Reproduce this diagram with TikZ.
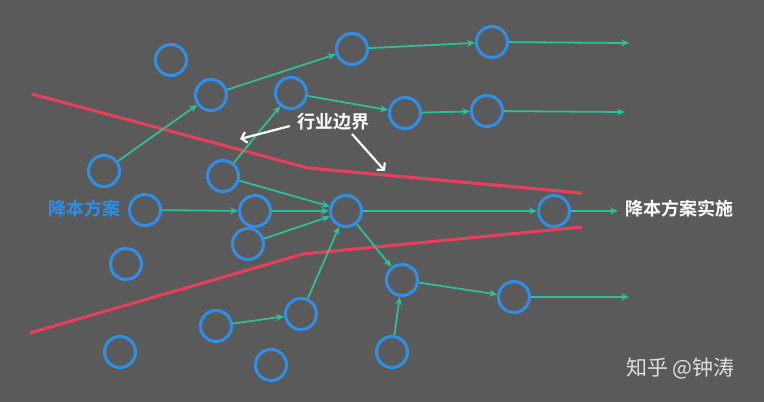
\documentclass[tikz,border=0pt]{standalone}
\usepackage{fontspec}
\newfontfamily\cjk{Noto Sans CJK SC}[BoldFont={Noto Sans CJK SC Bold}]
\usetikzlibrary{arrows.meta}
\definecolor{bg}{RGB}{90,90,90}
\definecolor{cblue}{RGB}{47,143,232}
\definecolor{cgreen}{RGB}{48,190,150}
\definecolor{cred}{RGB}{232,64,92}
\tikzset{
  ball/.style={circle,draw=cblue,line width=3pt,minimum size=31pt,inner sep=0pt},
  arr/.style={draw=cgreen,line width=1.8pt,-{Stealth[length=8pt,width=7pt]}},
  wline/.style={draw=white,line width=2.2pt,-{Straight Barb[length=5pt,width=11pt,line width=2.2pt]}},
  bound/.style={draw=cred,line width=3pt,line join=round},
  lbl/.style={font=\cjk\bfseries\fontsize{18}{18}\selectfont,inner sep=0pt}
}
\begin{document}
\begin{tikzpicture}[x=1pt,y=-1pt]
\fill[bg] (0,0) rectangle (764,402);
\useasboundingbox (0,0) rectangle (764,402);
% boundaries
\coordinate (u1) at (32,94); \coordinate (u2) at (308,168); \coordinate (u3) at (582,193);
\coordinate (l1) at (30,333); \coordinate (l2) at (303,254); \coordinate (l3) at (582,227);
\draw[bound] (u1) -- (u2) -- (u3);
\draw[bound] (l1) -- (l2) -- (l3);
% circles
\node[ball] (c1) at (171,60) {};
\node[ball] (c2) at (211,95) {};
\node[ball] (c3) at (352,49) {};
\node[ball] (c4) at (492,42) {};
\node[ball] (c5) at (291,93) {};
\node[ball] (c6) at (405,113) {};
\node[ball] (c7) at (487,111) {};
\node[ball] (c8) at (104,171) {};
\node[ball] (c9) at (223,176) {};
\node[ball] (c10) at (145,210) {};
\node[ball] (c11) at (255,211) {};
\node[ball] (c12) at (346,211) {};
\node[ball] (c13) at (554,211) {};
\node[ball] (c14) at (248,244) {};
\node[ball] (c15) at (126,264) {};
\node[ball] (c16) at (402,280) {};
\node[ball] (c17) at (514,297) {};
\node[ball] (c18) at (216,326) {};
\node[ball] (c19) at (301,314) {};
\node[ball] (c20) at (120,352) {};
\node[ball] (c21) at (271,365) {};
\node[ball] (c22) at (392,352) {};
% free ends
\coordinate (e4) at (629,43);
\coordinate (e7) at (625,112);
\coordinate (e13) at (618,211);
\coordinate (e17) at (629,297);
% arrows
\draw[arr] (c8) -- (c2);
\draw[arr] (c2) -- (c3);
\draw[arr] (c3) -- (c4);
\draw[arr] (c4) -- (e4);
\draw[arr] (c9) -- (c5);
\draw[arr] (c5) -- (c6);
\draw[arr] (c6) -- (c7);
\draw[arr] (c7) -- (e7);
\draw[arr] (c10) -- (c11);
\draw[arr] (c11) -- (c12);
\draw[arr] (c9) -- (c12);
\draw[arr] (c14) -- (c12);
\draw[arr] (c19) -- (c12);
\draw[arr] (c12) -- (c13);
\draw[arr] (c13) -- (e13);
\draw[arr] (c12) -- (c16);
\draw[arr] (c16) -- (c17);
\draw[arr] (c17) -- (e17);
\draw[arr] (c22) -- (c16);
\draw[arr] (c18) -- (c19);
% labels
\node[lbl,text=white] (hy) at (333,122) {行业边界};
\coordinate (ws1) at (290,126);
\coordinate (w1) at (240,139);
\coordinate (ws2) at (352,134);
\coordinate (w2) at (385,171);
\draw[wline] (ws1) -- (w1);
\draw[wline] (ws2) -- (w2);
\node[lbl,text=cblue,anchor=east] (jb) at (121,209) {降本方案};
\node[lbl,text=white,anchor=west] (ss) at (625,209) {降本方案实施};
\node[font=\cjk\fontsize{21}{21}\selectfont,text=white,opacity=0.8,anchor=west,inner sep=0pt] (wm) at (626,368) {知乎 @钟涛};
\end{tikzpicture}
\end{document}
